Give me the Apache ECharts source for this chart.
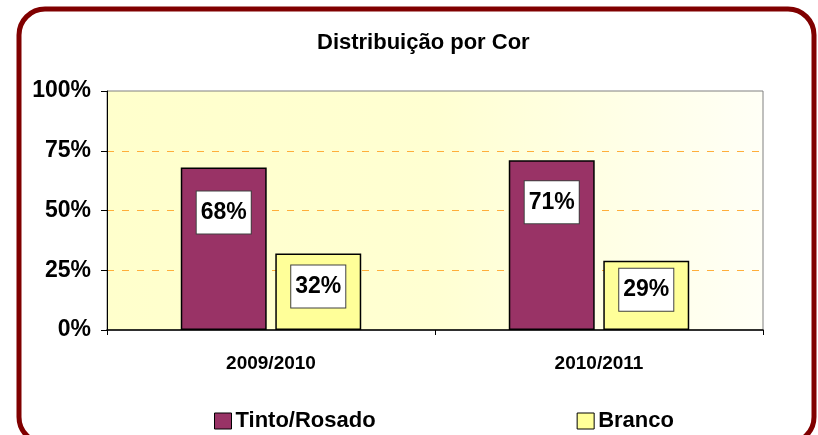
<!DOCTYPE html>
<html>
<head>
<meta charset="utf-8">
<script src="https://cdn.jsdelivr.net/npm/echarts@6/dist/echarts.min.js"></script>
<style>html,body{margin:0;padding:0;background:#fff}#c{width:818px;height:435px}</style>
</head>
<body>
<div id="c"></div>
<script>
const categories = ['2009/2010', '2010/2011'];
const tintoValues = [68, 71];
const brancoValues = [32, 29];
const labelDistTinto = [24, 21];
const labelDistBranco = [12, 8];
const yTicks = [0, 25, 50, 75, 100];

const FONT = '"Liberation Sans", Arial, sans-serif';
const chart = echarts.init(document.getElementById('c'), null, {renderer: 'canvas'});

function mk(vals, dists) {
  return vals.map((v, i) => ({value: v, label: {distance: dists[i]}}));
}
const labelStyle = {
  show: true,
  position: 'insideTop',
  formatter: p => p.value + '%',
  color: '#000',
  fontFamily: FONT,
  fontWeight: 'bold',
  fontSize: 23,
  lineHeight: 24,
  backgroundColor: '#fff',
  borderColor: '#404040',
  borderWidth: 1,
  padding: [9, 4, 9, 4]
};

chart.setOption({
  animation: false,
  title: {
    text: 'Distribuição por Cor',
    left: 312, top: 27,
    textStyle: {fontFamily: FONT, fontWeight: 'bold', fontSize: 22, color: '#000'}
  },
  graphic: [{
    type: 'rect',
    shape: {x: 19, y: 9, width: 795, height: 434, r: 26},
    style: {fill: 'none', stroke: '#800000', lineWidth: 5},
    z: 100
  }],
  legend: {
    left: 209, top: 405,
    itemWidth: 17, itemHeight: 16, itemGap: 201,
    icon: 'rect',
    textStyle: {fontFamily: FONT, fontWeight: 'bold', fontSize: 22, color: '#000', padding: [0,0,0,-1]},
    itemStyle: {borderColor: '#000', borderWidth: 1}
  },
  grid: {
    left: 107, right: 55, top: 91, bottom: 105,
    show: true,
    backgroundColor: new echarts.graphic.LinearGradient(0, 0, 1, 0, [
      {offset: 0, color: '#FFFFCC'}, {offset: 0.5, color: '#FFFFD2'}, {offset: 1, color: '#FFFFF6'}
    ]),
    borderColor: '#808080', borderWidth: 1
  },
  xAxis: {
    type: 'category',
    data: categories,
    axisLine: {lineStyle: {color: '#000', width: 1.5}},
    axisTick: {show: true, length: 5, lineStyle: {color: '#000'}},
    axisLabel: {margin: 24, fontFamily: FONT, fontWeight: 'bold', fontSize: 19, color: '#000'}
  },
  yAxis: {
    type: 'value',
    min: 0, max: 100, interval: 25,
    axisLine: {show: true, lineStyle: {color: '#000', width: 1}},
    axisTick: {show: true, length: 6, lineStyle: {color: '#000'}},
    axisLabel: {
      margin: 16, fontFamily: FONT, fontWeight: 'bold', fontSize: 23, color: '#000',
      formatter: v => yTicks.includes(v) ? v + '%' : ''
    },
    splitLine: {show: true, showMinLine: false, showMaxLine: false,
      lineStyle: {color: '#FFAE3A', width: 1.2, type: [7, 8]}}
  },
  series: [{
    name: 'Tinto/Rosado',
    type: 'bar',
    data: mk(tintoValues, labelDistTinto),
    barWidth: '26.2%',
    barGap: '10%',
    itemStyle: {color: '#993366', borderColor: '#000', borderWidth: 1.5},
    label: labelStyle
  }, {
    name: 'Branco',
    type: 'bar',
    data: mk(brancoValues, labelDistBranco),
    barWidth: '26.2%',
    barGap: '10%',
    itemStyle: {color: '#FFFF99', borderColor: '#000', borderWidth: 1.5},
    label: labelStyle
  }]
});
</script>
</body>
</html>
